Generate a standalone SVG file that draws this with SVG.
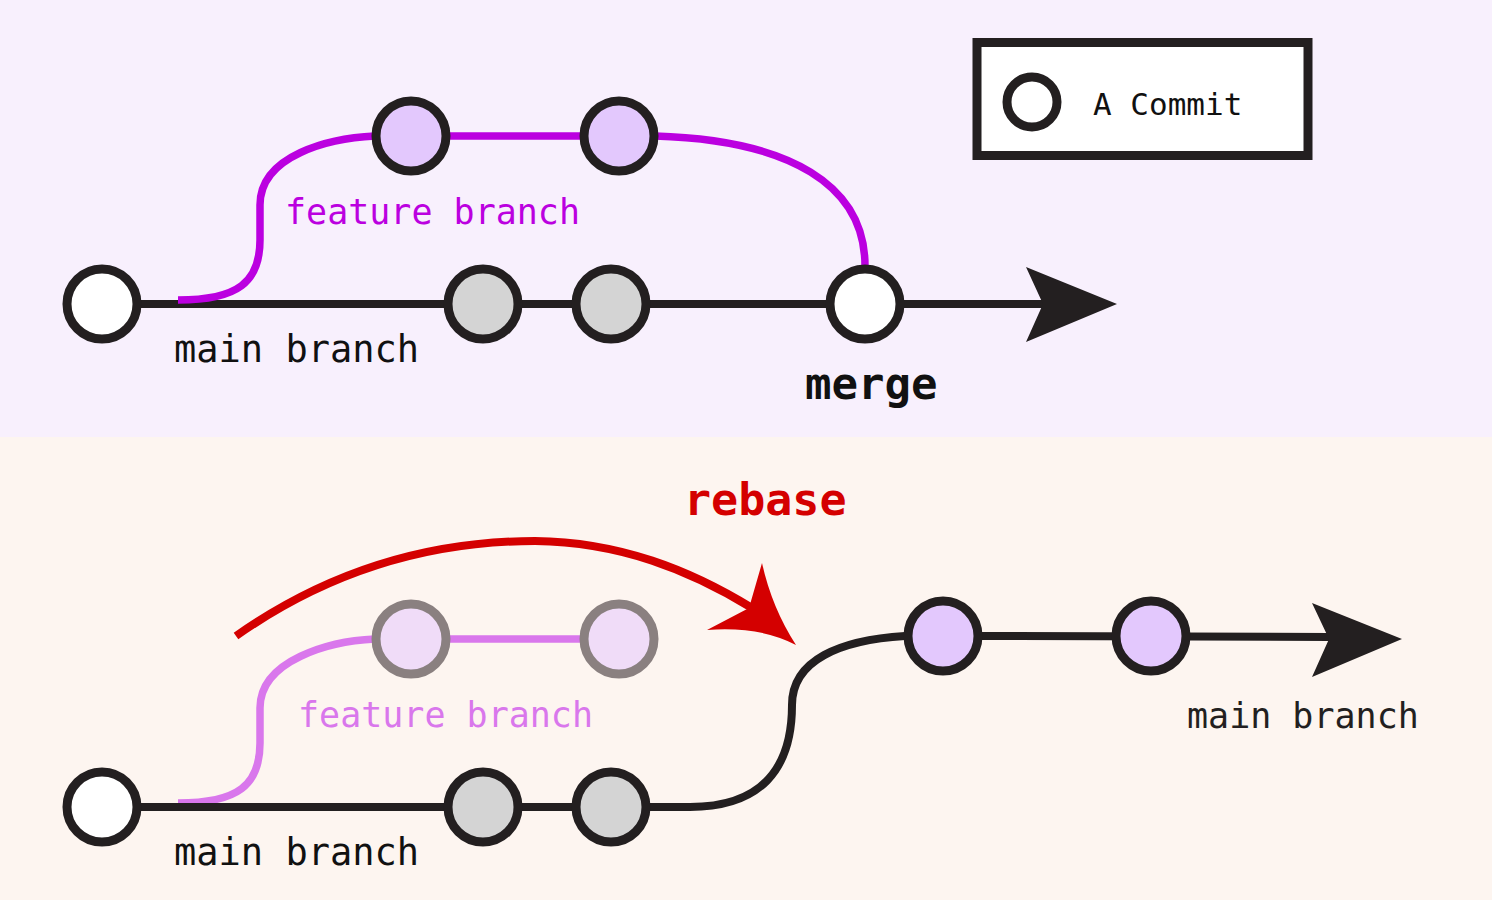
<svg xmlns="http://www.w3.org/2000/svg" width="1492" height="900" viewBox="0 0 1492 900">
<style>
.bgT{fill:#f8f0fd}
.bgB{fill:#fdf5f0}
.main{fill:none;stroke:#231f20;stroke-width:8}
.feat{fill:none;stroke:#bb00e0;stroke-width:7.5}
.featF{fill:none;stroke:#d977ec;stroke-width:7.5}
.c{stroke:#231f20;stroke-width:9}
.white{fill:#ffffff}
.gray{fill:#d4d4d4}
.lav{fill:#e3c8fd}
.ghost{fill:#f0dcf8;stroke:#8a8080;stroke-width:9}
.t{font-family:"DejaVu Sans Mono","Liberation Mono",monospace}
.head{fill:#231f20}
</style>
<rect class="bgT" x="0" y="0" width="1492" height="437"/>
<rect class="bgB" x="0" y="437" width="1492" height="463"/>

<g id="connectors">
  <path class="main" d="M140 304 L1045 304"/>
  <polygon class="head" points="1117,304 1026,267 1043,304 1026,342"/>
  <path class="feat" d="M178 300 C238 300 260 282 260 240 L260 205 C260 155 330 138 375 136 L584 136"/>
  <path class="feat" d="M655 136 C790 140 865 185 865 266"/>
  <path class="featF" d="M178 803 C238 803 260 785 260 743 L260 708 C260 660 330 641 375 639 L584 639"/>
  <path class="main" d="M140 807 L690 807 C760 807 792 770 792 705 C792 660 840 640 905 636"/>
  <path class="main" d="M981 636 L1330 637"/>
  <polygon class="head" points="1402,639 1312,603 1329,639 1312,677"/>
  <path fill="none" stroke="#d40000" stroke-width="8" d="M236 636 C330 570 430 541 535 541 C620 542 690 570 752 608"/>
  <path fill="#d40000" d="M796 645 Q760 626 707 630 L749 608 L762 563 Q772 608 796 645 Z"/>
</g>

<g id="legend">
  <rect x="977" y="42.5" width="331" height="113" fill="#ffffff" stroke="#231f20" stroke-width="9"/>
  <circle class="c white" cx="1032" cy="102" r="25"/>
  <text class="t" x="1093" y="115" font-size="31" fill="#111">A Commit</text>
</g>

<g id="top-c0"><circle class="c white" cx="102" cy="304" r="35"/></g>
<g id="top-c1"><circle class="c gray" cx="483" cy="304" r="35"/></g>
<g id="top-c2"><circle class="c gray" cx="611" cy="304" r="35"/></g>
<g id="top-merge"><circle class="c white" cx="865" cy="304" r="35"/></g>
<g id="top-f1"><circle class="c lav" cx="411" cy="136" r="35"/></g>
<g id="top-f2"><circle class="c lav" cx="619" cy="136" r="35"/></g>

<g id="bot-c0"><circle class="c white" cx="102" cy="807" r="35"/></g>
<g id="bot-c1"><circle class="c gray" cx="483" cy="807" r="35"/></g>
<g id="bot-c2"><circle class="c gray" cx="611" cy="807" r="35"/></g>
<g id="bot-g1"><circle class="ghost" cx="411" cy="639" r="35"/></g>
<g id="bot-g2"><circle class="ghost" cx="619" cy="639" r="35"/></g>
<g id="bot-n1"><circle class="c lav" cx="943" cy="636" r="35"/></g>
<g id="bot-n2"><circle class="c lav" cx="1151" cy="636" r="35"/></g>

<g id="labels">
  <text class="t" x="285" y="224" font-size="35" fill="#bb00e0">feature branch</text>
  <text class="t" x="174" y="362" font-size="37" fill="#111">main branch</text>
  <text class="t" x="805" y="399" font-size="44" font-weight="bold" fill="#111">merge</text>
  <text class="t" x="684" y="515" font-size="45" font-weight="bold" fill="#d40000">rebase</text>
  <text class="t" x="298" y="727" font-size="35" fill="#d977ec">feature branch</text>
  <text class="t" x="174" y="865" font-size="37" fill="#111">main branch</text>
  <text class="t" x="1187" y="728" font-size="35" fill="#231f20">main branch</text>
</g>
</svg>
